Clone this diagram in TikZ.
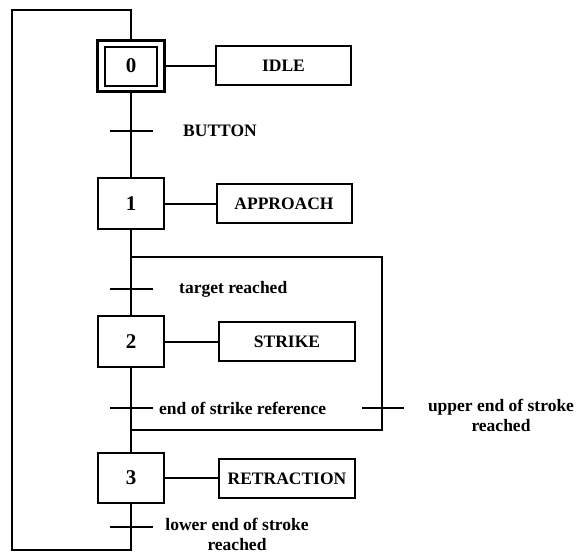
\documentclass[tikz,border=0pt]{standalone}
\usepackage{fontspec}
\setmainfont{Liberation Serif}
\begin{document}
\begin{tikzpicture}[x=1pt,y=-1pt,
  ln/.style={line width=2pt},
  stepbox/.style={draw,line width=2.6pt,minimum width=66pt,minimum height=51pt,inner sep=0pt,font=\fontsize{21}{23}\selectfont\bfseries},
  actbox/.style={draw,line width=2pt,minimum width=135pt,minimum height=39pt,inner sep=0pt,font=\fontsize{17.5}{19}\selectfont\bfseries},
  lab/.style={font=\fontsize{17.5}{19.5}\selectfont\bfseries,inner sep=0pt},
  tick/.style={line width=2pt}]
\useasboundingbox (0,0) rectangle (576,555);
% steps
\node[stepbox,minimum width=67pt] (s0) at (131,66) {};
\node[draw,line width=2pt,minimum width=52pt,minimum height=39pt,inner sep=0pt,font=\fontsize{21}{23}\selectfont\bfseries] (s0i) at (131,66) {0};
\node[stepbox] (s1) at (131,203.5) {1};
\node[stepbox] (s2) at (131,341.5) {2};
\node[stepbox,minimum height=50pt] (s3) at (131,478) {3};
% actions
\node[actbox] (a0) at (283.5,65.5) {IDLE};
\node[actbox] (a1) at (284,203.5) {APPROACH};
\node[actbox,minimum width=136pt] (a2) at (287,341.5) {STRIKE};
\node[actbox,minimum width=136pt] (a3) at (287,478.5) {RETRACTION};
\draw[ln] (s0.east) -- (a0.west |- s0.east);
\draw[ln] (s1.east) -- (a1.west |- s1.east);
\draw[ln] (s2.east) -- (a2.west |- s2.east);
\draw[ln] (s3.east) -- (a3.west |- s3.east);
% coordinates
\coordinate (top) at (131,10);
\coordinate (tl) at (12,10);
\coordinate (bl) at (12,550);
\coordinate (bot) at (131,550);
\coordinate (dv) at (131,257);
\coordinate (dvr) at (382,257);
\coordinate (cvr) at (382,430);
\coordinate (cv) at (131,430);
% main flow
\draw[ln] (s0.north) -- (top) -- (tl) -- (bl) -- (bot) -- (s3.south);
\draw[ln] (s0.south) -- (s1.north);
\draw[ln] (s1.south) -- (s2.north);
\draw[ln] (s2.south) -- (s3.north);
\draw[ln] (dv) -- (dvr) -- (cvr) -- (cv);
% transitions
\coordinate (t0) at (131,131);
\coordinate (t1) at (131,289);
\coordinate (t2) at (131,408);
\coordinate (t3) at (131,527);
\coordinate (t4) at (382,408);
\foreach \t in {t0,t1,t2,t3}{\draw[tick] ([xshift=-21pt]\t) -- ([xshift=22pt]\t);}
\draw[tick] ([xshift=-20pt]t4) -- ([xshift=22pt]t4);
% labels
\node[lab,anchor=west] (l0) at (183,131) {BUTTON};
\node[lab,anchor=west] (l1) at (179,289) {target reached};
\node[lab,anchor=west] (l2) at (159,408) {end of strike reference};
\node[lab,align=center,anchor=north] (l4) at (501,399) {upper end of stroke\\reached};
\node[lab,align=center,anchor=north] (l3) at (237,518) {lower end of stroke\\reached};
\end{tikzpicture}
\end{document}
